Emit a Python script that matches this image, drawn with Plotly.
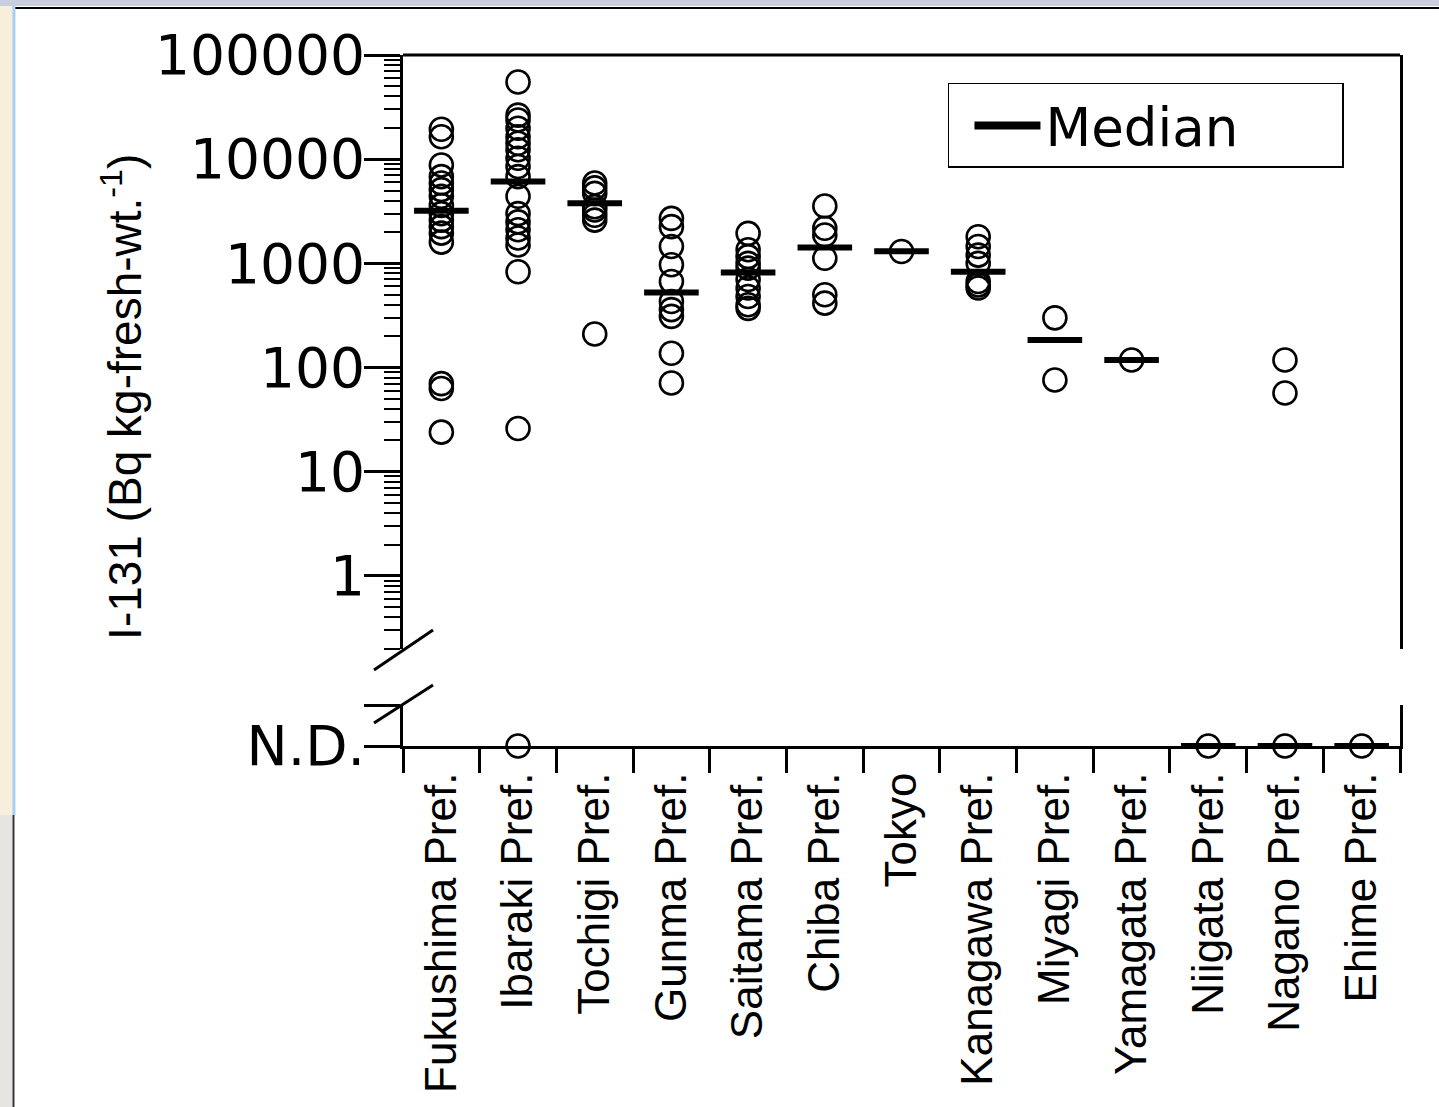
import plotly.graph_objects as go

# ---------------- data ----------------
prefectures = ["Fukushima Pref.", "Ibaraki Pref.", "Tochigi Pref.", "Gunma Pref.",
               "Saitama Pref.", "Chiba Pref.", "Tokyo", "Kanagawa Pref.",
               "Miyagi Pref.", "Yamagata Pref.", "Niigata Pref.", "Nagano Pref.",
               "Ehime Pref."]

fukushima = [19400, 16400, 8800, 6800, 5900, 5100, 4400, 3600, 3000, 2600, 2250, 1950, 1600, 70, 63, 24]
ibaraki = [55000, 26500, 23800, 19800, 16400, 14200, 12300, 10200, 8500, 6800, 4400, 3000, 2500,
           2100, 1750, 1500, 830, 26]
tochigi = [5900, 5300, 4700, 3500, 3250, 2900, 2600, 210]
gunma = [2700, 2250, 1450, 970, 670, 430, 360, 310, 137, 71]
saitama = [1940, 1350, 1160, 1000, 900, 700, 580, 480, 400, 370]
chiba = [3550, 2170, 1870, 1120, 500, 415]
tokyo = [1300]
kanagawa = [1800, 1450, 1200, 1000, 670, 620, 580]
miyagi = [300, 76]
yamagata = [118]
niigata = []
nagano = [118, 57]
ehime = []

detected = [fukushima, ibaraki, tochigi, gunma, saitama, chiba, tokyo, kanagawa,
            miyagi, yamagata, niigata, nagano, ehime]

# samples below detection limit (N.D.)
nd_prefectures = ["Ibaraki Pref.", "Niigata Pref.", "Nagano Pref.", "Ehime Pref."]

# medians
median_prefectures = ["Fukushima Pref.", "Ibaraki Pref.", "Tochigi Pref.", "Gunma Pref.",
                      "Saitama Pref.", "Chiba Pref.", "Tokyo", "Kanagawa Pref.",
                      "Miyagi Pref.", "Yamagata Pref."]
median_values = [3200, 6100, 3780, 524, 815, 1420, 1310, 832, 184, 118]
median_nd_prefectures = ["Niigata Pref.", "Nagano Pref.", "Ehime Pref."]

y_tick_values = [1, 10, 100, 1000, 10000, 100000]
y_tick_labels = ["1", "10", "100", "1000", "10000", "100000"]
nd_label = "N.D."

# ---------------- figure ----------------
xs, ys = [], []
for name, vals in zip(prefectures, detected):
    for v in vals:
        xs.append(name)
        ys.append(v)

circle = dict(symbol="circle-open", size=23, color="black", line=dict(width=2.6, color="black"))
dash = dict(symbol="line-ew", size=39, color="black", line=dict(width=6, color="black"))

fig = go.Figure()
fig.add_trace(go.Scatter(x=xs, y=ys, mode="markers", marker=circle, showlegend=False,
                         xaxis="x", yaxis="y", cliponaxis=False))
fig.add_trace(go.Scatter(x=median_prefectures, y=median_values, mode="markers", marker=dash,
                         showlegend=False, xaxis="x", yaxis="y", cliponaxis=False))
fig.add_trace(go.Scatter(x=nd_prefectures, y=[0] * len(nd_prefectures), mode="markers",
                         marker=circle, showlegend=False, xaxis="x", yaxis="y2", cliponaxis=False))
fig.add_trace(go.Scatter(x=median_nd_prefectures, y=[0] * len(median_nd_prefectures),
                         mode="markers", marker=dash, showlegend=False,
                         xaxis="x", yaxis="y2", cliponaxis=False))
# legend entry
fig.add_trace(go.Scatter(x=[None], y=[None], mode="lines", name="Median",
                         line=dict(color="black", width=8), xaxis="x", yaxis="y"))

minor_vals = [k * 10 ** e for e in range(-1, 5) for k in range(2, 10) if k * 10 ** e >= 0.2]

tick_font = dict(family="DejaVu Sans, Verdana, sans-serif", size=55, color="black")
sans = "Liberation Sans, Arial, sans-serif"

fig.update_layout(
    width=1439, height=1107, autosize=False,
    template="none",
    paper_bgcolor="white", plot_bgcolor="white",
    margin=dict(l=403, r=39, t=55, b=361, pad=0),
    showlegend=True,
    legend=dict(x=0.5466, y=0.9595, xanchor="left", yanchor="top",
                bordercolor="black", borderwidth=1.5, bgcolor="white",
                font=dict(family="DejaVu Sans, sans-serif", size=53, color="black"),
                orientation="h", entrywidth=292, itemwidth=66, indentation=20),
    xaxis=dict(type="category", categoryorder="array", categoryarray=prefectures,
               range=[-0.5, 12.5], anchor="y2", domain=[0, 1],
               showline=True, linewidth=3, linecolor="black",
               ticks="outside", tickson="boundaries", ticklen=24, tickwidth=2.5, tickcolor="black",
               tickangle=-90, ticklabelstandoff=6,
               tickfont=dict(family=sans, size=44, color="black"),
               showgrid=False, zeroline=False, automargin=False),
    yaxis=dict(type="log", range=[-0.699, 5], domain=[0.1408, 1], anchor="x",
               tickmode="array", tickvals=y_tick_values, ticktext=y_tick_labels,
               ticks="outside", ticklen=36, tickwidth=2.5, tickcolor="black",
               ticklabelstandoff=-12,
               minor=dict(tickmode="array", tickvals=minor_vals, ticks="outside",
                          ticklen=16, tickwidth=1.5, tickcolor="black", showgrid=False),
               tickfont=tick_font, showline=True, mirror=True, linewidth=3, linecolor="black",
               showgrid=False, zeroline=False, automargin=False),
    yaxis2=dict(range=[0, 1], domain=[0, 0.0593], anchor="x",
                tickmode="array", tickvals=[0], ticktext=[nd_label],
                ticks="outside", ticklen=36, tickwidth=2.5, tickcolor="black",
                ticklabelstandoff=-12,
                minor=dict(tickmode="array", tickvals=[1], ticks="outside",
                           ticklen=36, tickwidth=2.5, tickcolor="black", showgrid=False),
                tickfont=tick_font, showline=True, mirror=True, linewidth=3, linecolor="black",
                showgrid=False, zeroline=False, automargin=False),
)

# y-axis title
fig.add_annotation(text="I-131 (Bq kg-fresh-wt.<sup>-1</sup>)", xref="paper", yref="paper",
                   x=-0.282, y=0.505, xanchor="center", yanchor="middle", textangle=-90,
                   showarrow=False, font=dict(family=sans, size=46, color="black"))

# top frame line of the upper panel
fig.add_shape(type="line", xref="paper", yref="paper", x0=0, x1=1, y0=1, y1=1,
              line=dict(color="black", width=3))

# axis-break marks
for y0, y1 in [(0.1100, 0.1679), (0.0333, 0.0883)]:
    fig.add_shape(type="line", xref="paper", yref="paper", x0=-0.0291, y0=y0, x1=0.0301, y1=y1,
                  line=dict(color="black", width=3))

# window chrome of the screenshot
fig.add_shape(type="rect", xref="paper", yref="paper", x0=-0.4042, x1=1.0391, y0=1.0709, y1=1.0796,
              fillcolor="#c9cde0", line=dict(width=0), layer="below")
fig.add_shape(type="line", xref="paper", yref="paper", x0=-0.3912, x1=1.0391, y0=1.0680, y1=1.0680,
              line=dict(color="black", width=2))
fig.add_shape(type="rect", xref="paper", yref="paper", x0=-0.4042, x1=-0.3912, y0=-0.0999, y1=1.0709,
              fillcolor="#f8eedc", line=dict(width=0), layer="below")
fig.add_shape(type="line", xref="paper", yref="paper", x0=-0.3902, x1=-0.3902, y0=-0.0999, y1=1.0709,
              line=dict(color="#a6d0f8", width=3))
fig.add_shape(type="rect", xref="paper", yref="paper", x0=-0.4042, x1=-0.3922, y0=-0.5224, y1=-0.0999,
              fillcolor="#e6e5e2", line=dict(width=0), layer="below")
fig.add_shape(type="line", xref="paper", yref="paper", x0=-0.3907, x1=-0.3907, y0=-0.5224, y1=-0.0999,
              line=dict(color="#333333", width=2))

fig.write_html("out.html")
